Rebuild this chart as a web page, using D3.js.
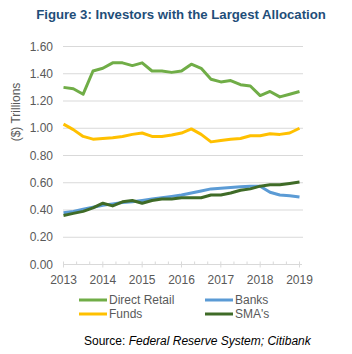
<!DOCTYPE html>
<html>
<head>
<meta charset="utf-8">
<script src="https://cdn.jsdelivr.net/npm/d3@7"></script>
<style>
  body { margin: 0; background: #fff; }
  text { font-family: "Liberation Sans", Arial, sans-serif; }
</style>
</head>
<body>
<div class="canva"></div>
<script>
// quarterly data, 2013 Q1 .. 2019 Q1
const quarters = d3.range(25).map(i => 2013 + i / 4);

const directRetail = [1.30, 1.29, 1.25, 1.42, 1.44, 1.48, 1.48, 1.46, 1.48,
                      1.42, 1.42, 1.41, 1.42, 1.47, 1.44, 1.36, 1.34, 1.35,
                      1.32, 1.31, 1.24, 1.27, 1.23, 1.25, 1.27];
const funds = [1.03, 0.99, 0.94, 0.92, 0.925, 0.93, 0.94, 0.955, 0.965,
               0.94, 0.94, 0.95, 0.965, 0.995, 0.955, 0.90, 0.91, 0.92,
               0.925, 0.945, 0.945, 0.96, 0.955, 0.965, 1.00];
const banks = [0.38, 0.39, 0.405, 0.42, 0.435, 0.445, 0.455, 0.46, 0.47,
               0.48, 0.49, 0.50, 0.51, 0.525, 0.54, 0.555, 0.56, 0.565,
               0.57, 0.575, 0.575, 0.53, 0.51, 0.505, 0.495];
const smas = [0.36, 0.375, 0.39, 0.415, 0.45, 0.43, 0.46, 0.47, 0.45,
              0.47, 0.48, 0.48, 0.49, 0.49, 0.49, 0.51, 0.51, 0.525,
              0.545, 0.555, 0.575, 0.585, 0.585, 0.595, 0.605];

const yTicks = [0, 0.2, 0.4, 0.6, 0.8, 1.0, 1.2, 1.4, 1.6];
const xTicks = [2013, 2014, 2015, 2016, 2017, 2018, 2019];

const series = [
  {name: "Direct Retail", values: directRetail, color: "#70AD47"},
  {name: "Banks", values: banks, color: "#5B9BD5"},
  {name: "Funds", values: funds, color: "#FFC000"},
  {name: "SMA's", values: smas, color: "#3F6B27"}
];

const svg = d3.select(".canva").append("svg")
  .attr("width", 352)
  .attr("height", 354);

// title
svg.append("text")
  .attr("x", 181).attr("y", 19)
  .attr("text-anchor", "middle")
  .attr("font-size", 13.2).attr("font-weight", "bold")
  .attr("fill", "#1F4E79")
  .text("Figure 3: Investors with the Largest Allocation");

const x = d3.scaleLinear().domain([2013, 2019]).range([63.5, 299.5]);
const y = d3.scaleLinear().domain([0, 1.6]).range([264.5, 46.5]);

// gridlines
svg.append("g")
  .selectAll("line")
  .data(yTicks.slice(1))
  .join("line")
  .attr("x1", 63).attr("x2", 303)
  .attr("y1", d => y(d)).attr("y2", d => y(d))
  .attr("stroke", "#d9d9d9").attr("stroke-width", 1);

// y labels
svg.append("g")
  .selectAll("text")
  .data(yTicks)
  .join("text")
  .attr("x", 53).attr("y", d => y(d) + 4)
  .attr("text-anchor", "end")
  .attr("font-size", 12).attr("fill", "#595959")
  .text(d => d.toFixed(2));

svg.append("text")
  .attr("transform", "translate(20,112) rotate(-90)")
  .attr("text-anchor", "middle")
  .attr("font-size", 12).attr("fill", "#595959")
  .text("($) Trillions");

// x axis
const xAxisG = svg.append("g");
xAxisG.append("line")
  .attr("x1", 63).attr("x2", 302)
  .attr("y1", y(0)).attr("y2", y(0))
  .attr("stroke", "#d9d9d9");
const minor = d3.range(19).map(i => 2013 + i / 3);
xAxisG.selectAll("line.tk")
  .data(minor)
  .join("line")
  .attr("class", "tk")
  .attr("x1", d => x(d)).attr("x2", d => x(d))
  .attr("y1", y(0) - 3)
  .attr("y2", (d, i) => i % 3 === 0 ? y(0) + 3 : y(0))
  .attr("stroke", "#d9d9d9");
xAxisG.selectAll("text")
  .data(xTicks)
  .join("text")
  .attr("x", d => x(d)).attr("y", 284)
  .attr("text-anchor", "middle")
  .attr("font-size", 12).attr("fill", "#595959")
  .text(d => d);

// lines
const line = d3.line()
  .x((d, i) => x(quarters[i]))
  .y(d => y(d));

const drawOrder = [series[0], series[2], series[1], series[3]];
svg.append("g")
  .selectAll("path")
  .data(drawOrder)
  .join("path")
  .attr("d", d => line(d.values))
  .attr("fill", "none")
  .attr("stroke", d => d.color)
  .attr("stroke-width", 3)
  .attr("stroke-linejoin", "round");

// legend
const legPos = [[79, 300], [205, 300], [79, 314], [205, 314]];
const leg = svg.append("g")
  .selectAll("g")
  .data(series)
  .join("g")
  .attr("transform", (d, i) => `translate(${legPos[i][0]},${legPos[i][1]})`);
leg.append("line")
  .attr("x1", 0).attr("x2", 28)
  .attr("stroke", d => d.color).attr("stroke-width", 3);
leg.append("text")
  .attr("x", 30).attr("y", 4)
  .attr("font-size", 12).attr("fill", "#595959")
  .text(d => d.name);

// source
const src = svg.append("text")
  .attr("x", 84).attr("y", 345)
  .attr("font-size", 12).attr("fill", "#000");
src.append("tspan").text("Source: ");
src.append("tspan").attr("font-style", "italic").text("Federal Reserve System; Citibank");
</script>
</body>
</html>
